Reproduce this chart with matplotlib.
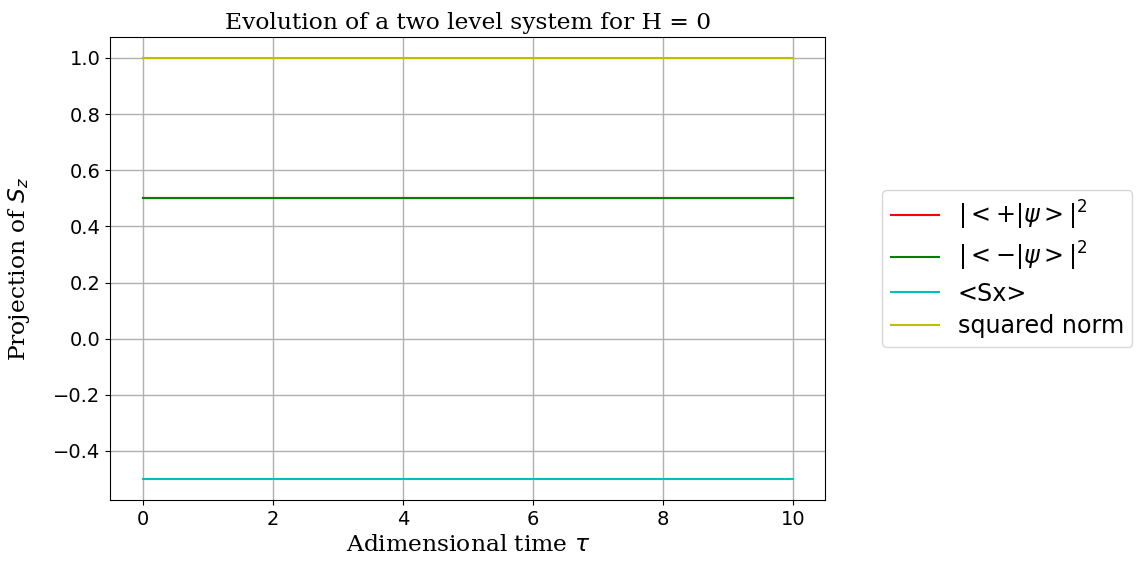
import matplotlib.pyplot as plt

# adimensional time samples
tau = [0, 1, 2, 3, 4, 5, 6, 7, 8, 9, 10]

# projections (constant for H = 0)
p_plus = [0.5] * len(tau)
p_minus = [0.5] * len(tau)
sx_mean = [-0.5] * len(tau)
sq_norm = [1.0] * len(tau)

labels = [r'$|<+|\psi>|^2$', r'$|<-|\psi>|^2$', '<Sx>', 'squared norm']
colors = ['r', 'g', 'c', 'y']

fig = plt.figure(figsize=(11.37, 5.67), dpi=100)
ax = fig.add_axes([0.097, 0.118, 0.629, 0.817])

for series, lab, col in zip([p_plus, p_minus, sx_mean, sq_norm], labels, colors):
    ax.plot(tau, series, color=col, label=lab, linewidth=1.5)

ax.grid(True, color='#b0b0b0', linewidth=1)
ax.tick_params(labelsize=14)
ax.set_title('Evolution of a two level system for H = 0', family='DejaVu Serif', fontsize=16.8)
ax.set_xlabel(r'Adimensional time $\tau$', family='DejaVu Serif', fontsize=16.8)
ax.set_ylabel(r'Projection of $S_z$', family='DejaVu Serif', fontsize=16.8, labelpad=15)
ax.legend(loc='center left', bbox_to_anchor=(1.063, 0.5), fontsize=17.2,
          labelspacing=0.35, borderpad=0.35)

fig.savefig('out.png', dpi=100)
